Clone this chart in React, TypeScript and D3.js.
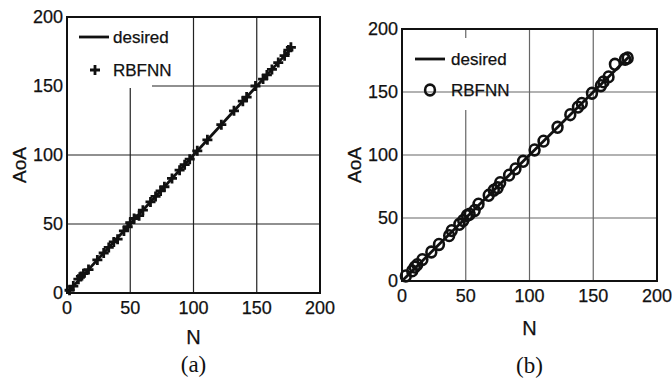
import React from 'react';
import * as d3 from 'd3';

// panel (a)
const nA = [2, 5, 9, 11, 13, 17, 24, 29, 33, 37, 40, 45, 48, 50, 53, 57, 60, 66, 70, 74, 77, 83, 89, 93, 97, 103, 111, 122, 132, 139, 142, 149, 155, 158, 162, 167, 172, 175, 177];
const aoaA = [2, 5, 10, 12, 14, 17, 24, 29, 33, 37, 39, 45, 48, 51, 54, 56, 60, 66, 70, 74, 77, 83, 89, 93, 97, 103, 111, 122, 132, 139, 142, 150, 155, 158, 162, 167, 172, 176, 178];
// panel (b)
const nB = [3, 8, 10, 12, 16, 23, 29, 37, 39, 45, 48, 51, 53, 57, 60, 68, 72, 75, 77, 84, 89, 95, 104, 111, 122, 132, 138, 141, 149, 156, 158, 162, 167, 175, 177];
const aoaB = [4, 8, 11, 13, 17, 23, 29, 36, 40, 45, 48, 52, 53, 56, 61, 68, 72, 74, 78, 84, 89, 95, 104, 111, 122, 132, 138, 141, 149, 155, 158, 162, 172, 176, 177];
// desired curve
const desiredN = [1, 178];
const desiredAoA = [1, 178];

const ticks = [0, 50, 100, 150, 200];
const sans = 'Liberation Sans, Arial, sans-serif';
const serif = 'Liberation Serif, Times New Roman, serif';

type PanelProps = {
  left: number; right: number; top: number; bottom: number;
  n: number[]; aoa: number[];
  marker: 'plus' | 'circle';
  gridColor: string;
  legendBg: [number, number, number, number];
  hGridOnTop: boolean;
  legend: { x0: number; x1: number; y1: number; y2: number; mx: number; tx: number };
  yLabelX: number; xLabelY: number; captionY: number; caption: string;
};

function T(props: any) {
  const { x, y, anchor, size, rotate, family, children } = props;
  const tr = `translate(${x},${y})${rotate ? ' rotate(-90)' : ''}`;
  return (
    <text transform={tr} dy="0.36em" textAnchor={anchor || 'start'} fontSize={size}
      fontFamily={family || sans} fill="#111" stroke="#111" strokeWidth={0.25}>{children}</text>
  );
}

function Panel(p: PanelProps) {
  const x = d3.scaleLinear().domain([0, 200]).range([p.left, p.right]);
  const y = d3.scaleLinear().domain([0, 200]).range([p.bottom, p.top]);
  const line = d3.line<number>().x((d, i) => x(desiredN[i])).y((d, i) => y(desiredAoA[i]));
  const inner = ticks.slice(1, -1);
  const mark = (cx: number, cy: number, k: number) =>
    p.marker === 'plus' ? (
      <path key={k} d={`M${cx - 5},${cy}H${cx + 5}M${cx},${cy - 5}V${cy + 5}`} stroke="#111" strokeWidth={2.8} />
    ) : (
      <ellipse key={k} cx={cx} cy={cy} rx={4.9} ry={5.4} fill="none" stroke="#111" strokeWidth={2.6} />
    );
  const hGrid = inner.map(t => (
    <line key={'h' + t} x1={p.left} x2={p.right} y1={y(t)} y2={y(t)} stroke={p.gridColor} strokeWidth={1.2} />
  ));
  const cx = (p.left + p.right) / 2;
  return (
    <g>
      {inner.map(t => (
        <line key={'v' + t} x1={x(t)} x2={x(t)} y1={p.top} y2={p.bottom} stroke={p.gridColor} strokeWidth={1.2} />
      ))}
      {!p.hGridOnTop && hGrid}
      <rect x={p.legendBg[0]} y={p.legendBg[1]} width={p.legendBg[2]} height={p.legendBg[3]} fill="#fff" />
      {p.hGridOnTop && hGrid}
      <path d={line(desiredN) || ''} fill="none" stroke="#111" strokeWidth={2.8} />
      {p.n.map((d, i) => mark(x(d), y(p.aoa[i]), i))}
      <rect x={p.left} y={p.top} width={p.right - p.left} height={p.bottom - p.top} fill="none" stroke="#111" strokeWidth={2} />
      {/* legend */}
      <line x1={p.legend.x0} x2={p.legend.x1} y1={p.legend.y1} y2={p.legend.y1} stroke="#111" strokeWidth={2.8} />
      <T x={p.legend.tx} y={p.legend.y1} size={17}>desired</T>
      {mark(p.legend.mx, p.legend.y2, -1)}
      <T x={p.legend.tx} y={p.legend.y2} size={17}>RBFNN</T>
      {/* ticks */}
      {ticks.map(t => (
        <T key={'yt' + t} x={p.left - 4} y={y(t)} anchor="end" size={18}>{t}</T>
      ))}
      {ticks.map(t => (
        <T key={'xt' + t} x={x(t)} y={p.bottom + 15} anchor="middle" size={18}>{t}</T>
      ))}
      <T x={p.yLabelX} y={(p.top + p.bottom) / 2 + 10} anchor="middle" size={19} rotate>AoA</T>
      <T x={cx} y={p.xLabelY} anchor="middle" size={20}>N</T>
      <text x={cx} y={p.captionY} dy="0.35em" textAnchor="middle" fontSize={23} fontFamily={serif} fill="#111">{p.caption}</text>
    </g>
  );
}

export default function App() {
  return (
    <svg width={672} height={383} style={{ position: 'absolute', left: 0, top: 0, background: '#fff' }}>
      <rect width={672} height={383} fill="#fff" />
      <Panel left={67} right={320} top={17} bottom={293} n={nA} aoa={aoaA} marker="plus" gridColor="#222"
        legendBg={[68, 18, 84, 70]} hGridOnTop={false}
        legend={{ x0: 79, x1: 109, y1: 37, y2: 70, mx: 95, tx: 113 }}
        yLabelX={19} xLabelY={337} captionY={364} caption="(a)" />
      <Panel left={402} right={657} top={29} bottom={281} n={nB} aoa={aoaB} marker="circle" gridColor="#666"
        legendBg={[403, 38, 117, 72]} hGridOnTop={true}
        legend={{ x0: 415, x1: 445, y1: 59, y2: 90, mx: 430, tx: 451 }}
        yLabelX={354} xLabelY={328} captionY={365} caption="(b)" />
    </svg>
  );
}
